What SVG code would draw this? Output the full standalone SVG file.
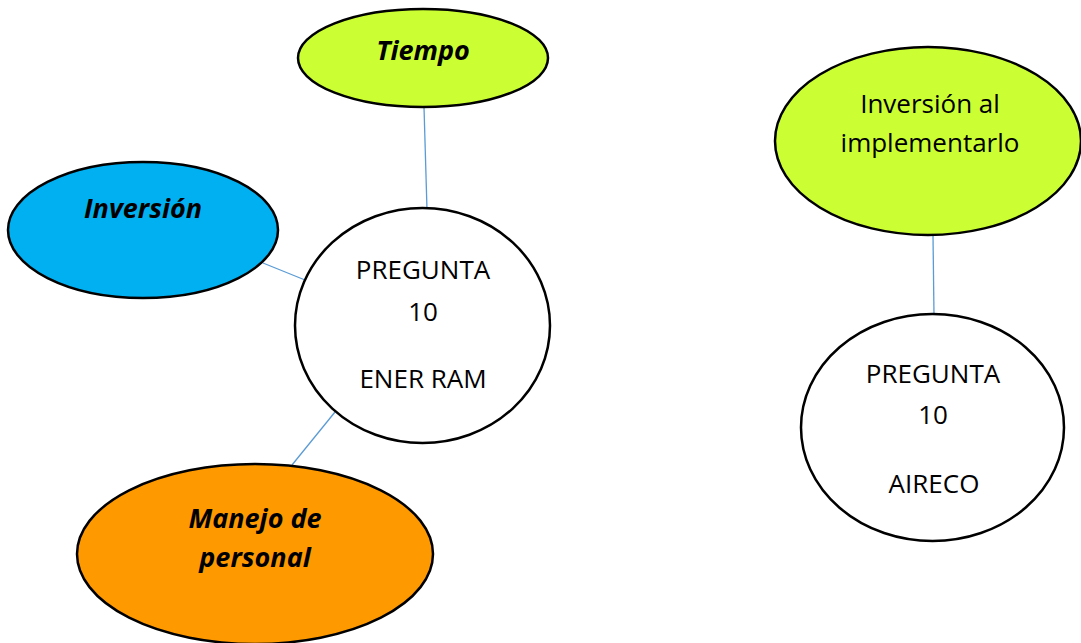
<svg xmlns="http://www.w3.org/2000/svg" width="1081" height="643" viewBox="0 0 1081 643">
<style>
.n{stroke:#000;stroke-width:2.5}
.t{font-family:"Open Sans","Noto Sans",sans-serif;font-size:26px;fill:#000;text-anchor:middle}
.bi{font-weight:bold;font-style:italic;font-size:27px}
.c{stroke:#5B9BD5;stroke-width:1.3;fill:none}
</style>
<rect width="1081" height="643" fill="#fff"/>
<g id="connectors">
<line class="c" x1="424" y1="107" x2="427" y2="210"/>
<line class="c" x1="263" y1="263" x2="305" y2="280"/>
<line class="c" x1="335" y1="412" x2="292" y2="465"/>
<line class="c" x1="933" y1="235" x2="934" y2="315"/>
</g>
<g id="tiempo">
<ellipse class="n" cx="423" cy="58" rx="125" ry="49" fill="#CCFF33"/>
<text class="t bi" x="423" y="60">Tiempo</text>
</g>
<g id="inversion">
<ellipse class="n" cx="143" cy="230" rx="135" ry="68" fill="#00B0F0"/>
<text class="t bi" x="143" y="218">Inversión</text>
</g>
<g id="pregunta-ener">
<ellipse class="n" cx="422.5" cy="325.5" rx="127.5" ry="117.5" fill="#fff"/>
<text class="t" x="423" y="279">PREGUNTA</text>
<text class="t" x="423" y="321">10</text>
<text class="t" x="423" y="388">ENER RAM</text>
</g>
<g id="manejo">
<ellipse class="n" cx="255" cy="554" rx="178" ry="90" fill="#FF9900"/>
<text class="t bi" x="255" y="528">Manejo de</text>
<text class="t bi" x="255" y="567">personal</text>
</g>
<g id="inversion-impl">
<ellipse class="n" cx="928" cy="141" rx="153" ry="94" fill="#CCFF33"/>
<text class="t" x="930" y="113">Inversión al</text>
<text class="t" x="930" y="152">implementarlo</text>
</g>
<g id="pregunta-aireco">
<ellipse class="n" cx="932.5" cy="427.5" rx="131.5" ry="113.5" fill="#fff"/>
<text class="t" x="933" y="383">PREGUNTA</text>
<text class="t" x="933" y="424">10</text>
<text class="t" x="934" y="493">AIRECO</text>
</g>
</svg>
